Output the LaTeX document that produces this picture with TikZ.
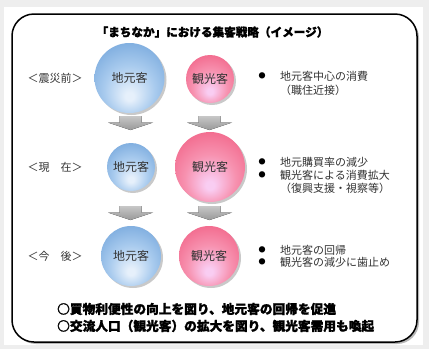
\documentclass[tikz,border=0pt]{standalone}
\usepackage{fontspec}
\setmainfont{Noto Sans CJK JP}[BoldFeatures={FakeBold=1.5}]
\usetikzlibrary{shadows,calc}
\definecolor{bgray}{HTML}{EEEEEE}
\definecolor{bluein}{HTML}{E6F0FB}
\definecolor{bluemid}{HTML}{A9CBEE}
\definecolor{blueout}{HTML}{6A9FD8}
\definecolor{pinkin}{HTML}{F9CDF2}
\definecolor{pinkmid}{HTML}{F792B0}
\definecolor{pinkout}{HTML}{F0587D}
\definecolor{txt}{HTML}{333333}
\pgfdeclareradialshading{blueball}{\pgfpoint{0bp}{-14bp}}{color(0bp)=(bluein); color(3bp)=(bluein); color(18bp)=(bluemid); color(38bp)=(blueout); color(50bp)=(blueout)}
\pgfdeclareradialshading{pinkball}{\pgfpoint{0bp}{-14bp}}{color(0bp)=(pinkin); color(3bp)=(pinkin); color(18bp)=(pinkmid); color(38bp)=(pinkout); color(50bp)=(pinkout)}
\tikzset{
  ballshadow/.style={drop shadow={shadow xshift=2pt,shadow yshift=-2pt,opacity=0.35,fill=black!60}},
  blueb/.style={circle,shading=blueball,ballshadow,inner sep=0pt,text=txt,font=\fontsize{12}{14}\selectfont},
  pinkb/.style={circle,shading=pinkball,ballshadow,inner sep=0pt,text=txt,font=\fontsize{12}{14}\selectfont},
  rowlabel/.style={text=txt,font=\fontsize{11}{13}\selectfont,inner sep=0pt},
  note/.style={anchor=west,text=txt,font=\fontsize{11}{13}\selectfont,inner sep=0pt},
  dot/.style={text=black,font=\fontsize{7}{8}\selectfont,inner sep=0pt},
  concl/.style={anchor=west,text=black,font=\bfseries\fontsize{12.7}{15}\selectfont,inner sep=0pt},
  arrowshade/.style={top color=black!22,bottom color=black!40},
  downarrow/.pic={\fill[arrowshade] (-11,0) -- (11,0) -- (11,6.5) -- (22.5,6.5) -- (0,14) -- (-22.5,6.5) -- (-11,6.5) -- cycle;}
}
\begin{document}
\begin{tikzpicture}[x=1pt,y=-1pt]
\useasboundingbox (0,0) rectangle (429,349);
\fill[bgray] (0,0) rectangle (429,349);
\fill[white] (4,7) rectangle (423,345);
\draw[line width=1.5pt,rounded corners=22pt,fill=white,drop shadow={shadow xshift=2pt,shadow yshift=-2pt,opacity=0.4,fill=black!70}] (12,14) rectangle (417,342);
\node[font=\bfseries\fontsize{11.6}{14}\selectfont,inner sep=0pt] (title) at (212.5,32) {「まちなか」における集客戦略（イメージ）};
% row 1
\node[rowlabel] (l1) at (55,78) {＜震災前＞};
\node[blueb,minimum size=70pt] (b1) at (129.5,78) {地元客};
\node[pinkb,minimum size=48pt] (p1) at (210,79) {観光客};
\node[dot] (d1a) at (262,76) {●};
\node[note] (t1a) at (280,76) {地元客中心の消費};
\node[note] (t1b) at (280,90) {（職住近接）};
% arrows
\pic at (130.5,116) {downarrow};
\pic at (209.5,116) {downarrow};
% row 2
\node[rowlabel] (l2) at (55,167) {＜現　在＞};
\node[blueb,minimum size=48pt] (b2) at (131,167) {地元客};
\node[pinkb,minimum size=70pt] (p2) at (210,167) {観光客};
\node[dot] (d2a) at (262,162) {●};
\node[note] (t2a) at (280,162) {地元購買率の減少};
\node[dot] (d2b) at (262,175) {●};
\node[note] (t2b) at (280,175) {観光客による消費拡大};
\node[note] (t2c) at (280,188) {（復興支援・視察等）};
% arrows
\pic at (130.5,206) {downarrow};
\pic at (209.5,206) {downarrow};
% row 3
\node[rowlabel] (l3) at (55,256) {＜今　後＞};
\node[blueb,minimum size=60pt] (b3) at (131,256) {地元客};
\node[pinkb,minimum size=60pt] (p3) at (209,256) {観光客};
\node[dot] (d3a) at (262,250) {●};
\node[note] (t3a) at (280,250) {地元客の回帰};
\node[dot] (d3b) at (262,262) {●};
\node[note] (t3b) at (280,262) {観光客の減少に歯止め};
% conclusions
\node[concl] (c1) at (57,309) {○買物利便性の向上を図り、地元客の回帰を促進};
\node[concl] (c2) at (57,326) {○交流人口（観光客）の拡大を図り、観光客需用も喚起};
\end{tikzpicture}
\end{document}
